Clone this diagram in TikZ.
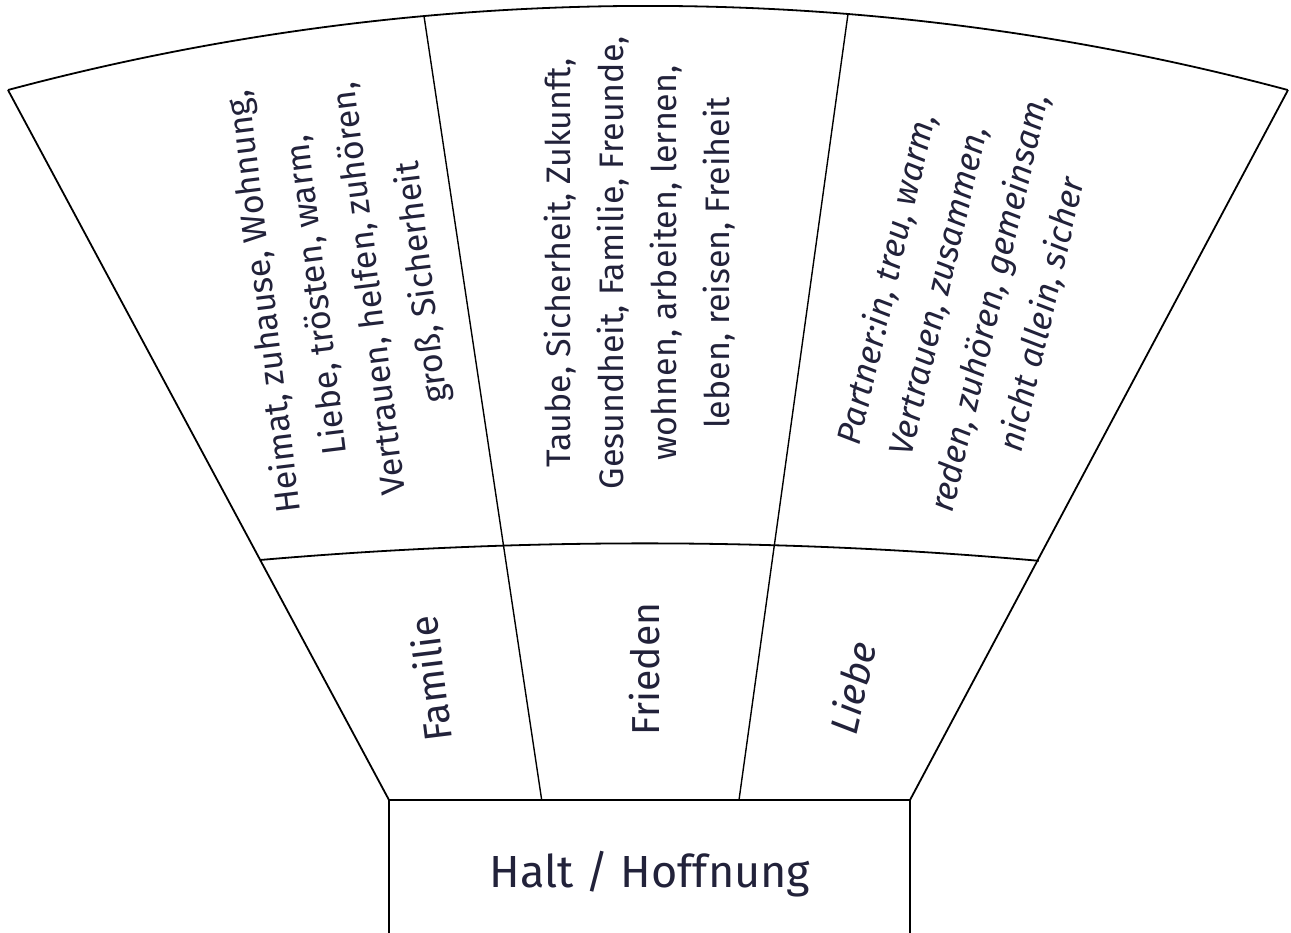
\documentclass[tikz,border=0pt]{standalone}
\usepackage{fontspec}
\setmainfont{Fira Sans}
\definecolor{ink}{HTML}{22223A}
\begin{document}
\begin{tikzpicture}[x=1pt,y=-1pt,
  edge/.style={line width=1.8pt, draw=black},
  divider/.style={line width=1.4pt, draw=black},
  words/.style={text=ink, font=\fontsize{34}{53}\selectfont, align=center, inner sep=0pt},
  topic/.style={text=ink, font=\fontsize{39}{47}\selectfont, inner sep=0pt},
  base/.style={text=ink, font=\fontsize{45}{54}\selectfont, inner sep=0pt}]
\useasboundingbox (0,0) rectangle (1291,933);
% corner points
\coordinate (TL) at (8,90);
\coordinate (TR) at (1288,90);
\coordinate (ML) at (260,560);
\coordinate (MR) at (1039,560);
\coordinate (BL) at (389,800);
\coordinate (BR) at (910,800);
\coordinate (D1T) at (424,16);
\coordinate (D1B) at (541.7,800);
\coordinate (D2T) at (848,14);
\coordinate (D2B) at (739,800);
\coordinate (BBL) at (389,933);
\coordinate (BBR) at (910,933);
% outline
\draw[edge] (TL) -- (BL);
\draw[edge] (TR) -- (BR);
\draw[edge] (TL) arc[start angle=-104.98, end angle=-75.02, radius=2475.7];
\draw[edge] (ML) arc[start angle=-94.959, end angle=-84.926, radius=4454.6];
\draw[divider] (D1T) -- (D1B);
\draw[divider] (D2T) -- (D2B);
\draw[edge] (BBL) -- (BL) -- (BR) -- (BBR);
% texts
\node[words, rotate=97] (w1) at (344,292) {Heimat, zuhause, Wohnung,\\Liebe, trösten, warm,\\Vertrauen, helfen, zuhören,\\groß, Sicherheit};
\node[words, rotate=90] (w2) at (640,263) {Taube, Sicherheit, Zukunft,\\Gesundheit, Familie, Freunde,\\wohnen, arbeiten, lernen,\\leben, reisen, Freiheit};
\node[words, rotate=77, font=\fontsize{34}{53}\selectfont\itshape] (w3) at (965,297) {Partner:in, treu, warm,\\Vertrauen, zusammen,\\reden, zuhören, gemeinsam,\\nicht allein, sicher};
\node[topic, rotate=97] (t1) at (430,679) {Familie};
\node[topic, rotate=90] (t2) at (645,669) {Frieden};
\node[topic, rotate=77, font=\fontsize{39}{47}\selectfont\itshape] (t3) at (852,688) {Liebe};
\node[base] (halt) at (650,874) {Halt / Hoffnung};
\end{tikzpicture}
\end{document}
